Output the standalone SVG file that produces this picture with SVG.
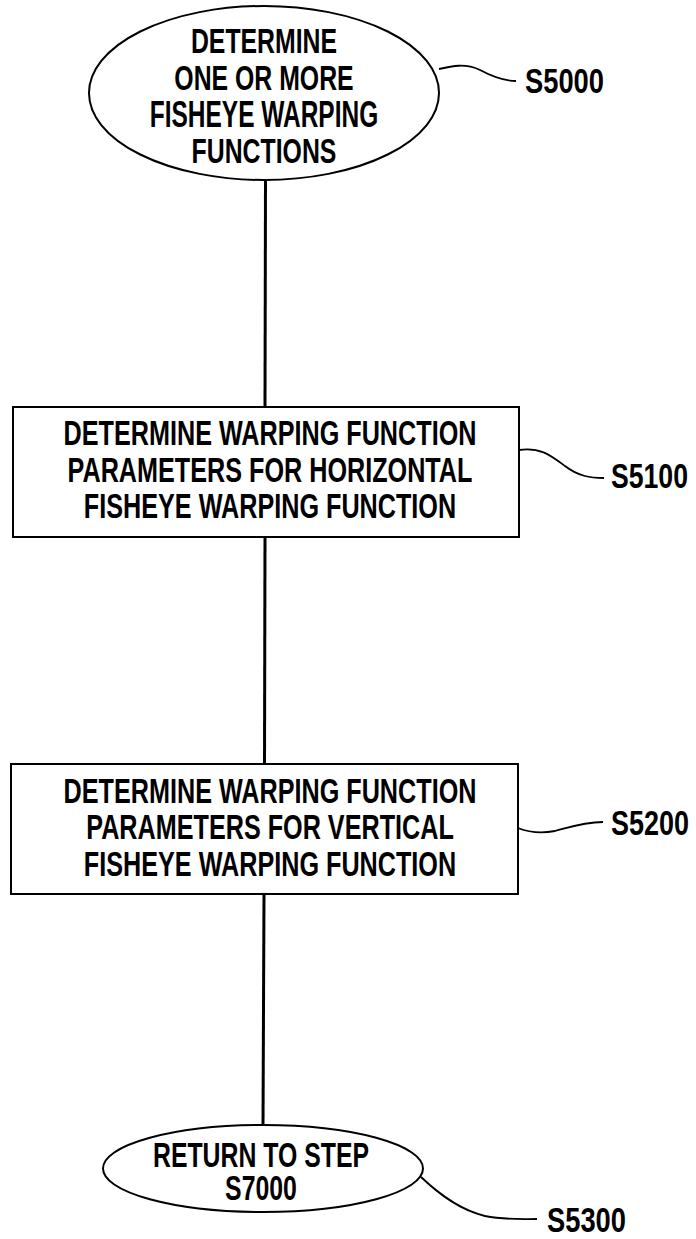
<svg xmlns="http://www.w3.org/2000/svg" width="696" height="1239" viewBox="0 0 696 1239">
<style>
.shape{fill:#fff;stroke:#000;stroke-width:2}
.flow{stroke:#000;stroke-width:3;fill:none}
.lead{stroke:#000;stroke-width:1.8;fill:none}
.t{font-family:"Liberation Sans",Arial,sans-serif;font-weight:bold;font-size:36px;fill:#000;text-anchor:middle}
.lbl{font-family:"Liberation Sans",Arial,sans-serif;font-weight:bold;font-size:35px;fill:#000}
</style>
<rect width="696" height="1239" fill="#fff"/>
<g id="connectors">
<line class="flow" x1="265.5" y1="180" x2="265" y2="407"/>
<line class="flow" x1="265" y1="537" x2="264.5" y2="764"/>
<line class="flow" x1="264" y1="894" x2="263" y2="1125"/>
<path class="lead" d="M439,69 C452,66 465,63 480,70 C495,78 505,81 516,81"/>
<path class="lead" d="M519,450 C540,447 550,455 565,466 C578,476 590,478 604,478"/>
<path class="lead" d="M518,828 C528,832 540,834 555,831 C570,827 585,822 603,822"/>
<path class="lead" d="M421,1177 C440,1195 460,1210 485,1216 C505,1220 520,1219 537,1219"/>
</g>
<g id="S5000">
<ellipse class="shape" cx="264" cy="93" rx="175" ry="87"/>
<text class="t" transform="translate(264,53) scale(0.69,1)">DETERMINE</text>
<text class="t" transform="translate(264,90) scale(0.69,1)">ONE OR MORE</text>
<text class="t" transform="translate(264,127) scale(0.68,1)">FISHEYE WARPING</text>
<text class="t" transform="translate(264,163) scale(0.69,1)">FUNCTIONS</text>
<text class="lbl" x="525" y="93" textLength="79" lengthAdjust="spacingAndGlyphs">S5000</text>
</g>
<g id="S5100">
<rect class="shape" x="13" y="407" width="506" height="130"/>
<text class="t" transform="translate(270,445) scale(0.70,1)">DETERMINE WARPING FUNCTION</text>
<text class="t" transform="translate(270,481.5) scale(0.70,1)">PARAMETERS FOR HORIZONTAL</text>
<text class="t" transform="translate(270,518) scale(0.70,1)">FISHEYE WARPING FUNCTION</text>
<text class="lbl" x="611" y="488" textLength="77" lengthAdjust="spacingAndGlyphs">S5100</text>
</g>
<g id="S5200">
<rect class="shape" x="11" y="764" width="507" height="130"/>
<text class="t" transform="translate(270,803) scale(0.70,1)">DETERMINE WARPING FUNCTION</text>
<text class="t" transform="translate(270,839) scale(0.70,1)">PARAMETERS FOR VERTICAL</text>
<text class="t" transform="translate(270,876) scale(0.70,1)">FISHEYE WARPING FUNCTION</text>
<text class="lbl" x="611" y="835" textLength="78" lengthAdjust="spacingAndGlyphs">S5200</text>
</g>
<g id="S5300">
<ellipse class="shape" cx="263" cy="1168.5" rx="160" ry="43.5"/>
<text class="t" transform="translate(261,1167) scale(0.69,1)">RETURN TO STEP</text>
<text class="t" transform="translate(261,1200) scale(0.69,1)">S7000</text>
<text class="lbl" x="547" y="1232" textLength="79" lengthAdjust="spacingAndGlyphs">S5300</text>
</g>
</svg>
